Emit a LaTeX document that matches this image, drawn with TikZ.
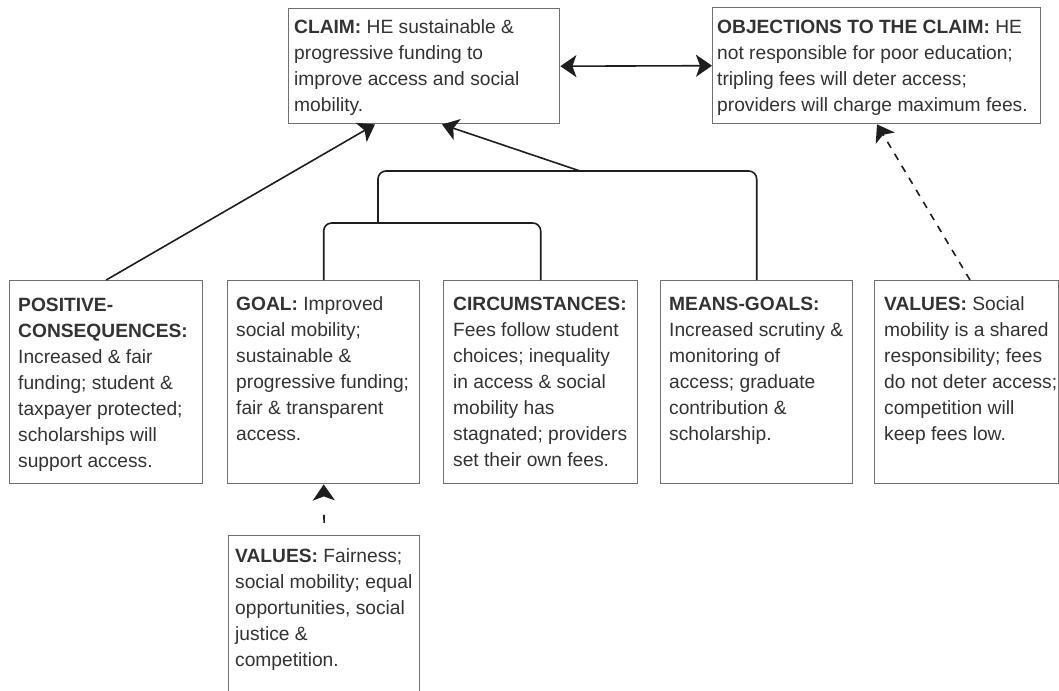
\documentclass[tikz,border=0pt]{standalone}
\usepackage{fontspec}
\setmainfont{Liberation Sans}
\usetikzlibrary{arrows.meta}
\definecolor{boxline}{HTML}{707070}
\definecolor{inkline}{HTML}{1E1E1E}
\definecolor{txtcol}{HTML}{333333}
\tikzset{
  box/.style={draw=boxline, line width=1.4pt, anchor=north west, inner sep=0pt, fill=white},
  label/.style={anchor=north west, inner sep=0pt, align=left, text=txtcol,
    font=\fontsize{19.2pt}{26pt}\selectfont},
  link/.style={draw=inkline, line width=1.6pt},
  toarrow/.style={-{Stealth[length=16pt, width=22pt, inset=4pt]}},
  fromarrow/.style={{Stealth[length=16pt, width=22pt, inset=4pt]}-},
  botharrow/.style={{Stealth[length=16pt, width=22pt, inset=4pt]}-{Stealth[length=16pt, width=22pt, inset=4pt]}},
  dashlink/.style={link, dash pattern=on 7pt off 7pt}}
\begin{document}
\begin{tikzpicture}[x=1pt,y=-1pt]
\useasboundingbox (0,0) rectangle (1059,690);
\clip (0,0) rectangle (1059,690);
\fill[white] (0,0) rectangle (1059,690);

% top row: claim and objections
\node[box, minimum width=271pt, minimum height=115pt] (claim) at (288,8) {};
\node[box, minimum width=328pt, minimum height=116pt] (obj) at (712,7) {};
\node[label] (claimtxt) at (294,14.8) {\strut\textbf{CLAIM:} HE sustainable \&\\progressive funding to\\improve access and social\\mobility.};
\node[label] (objtxt) at (717,14.8) {\strut\textbf{OBJECTIONS TO THE CLAIM:} HE\\not responsible for poor education;\\tripling fees will deter access;\\providers will charge maximum fees.};

% middle row of premises
\node[box, minimum width=193pt, minimum height=203pt] (pos) at (9,280) {};
\node[box, minimum width=192pt, minimum height=203pt] (goal) at (227,280) {};
\node[box, minimum width=194pt, minimum height=203pt] (circ) at (443,280) {};
\node[box, minimum width=192pt, minimum height=203pt] (means) at (660,280) {};
\node[box, minimum width=184pt, minimum height=203pt] (valr) at (874,280) {};

\node[label] (postxt) at (18,292.8) {\strut\textbf{POSITIVE-}\\\textbf{CONSEQUENCES:}\\Increased \& fair\\funding; student \&\\taxpayer protected;\\scholarships will\\support access.};
\node[label] (goaltxt) at (236,291.8) {\strut\textbf{GOAL:} Improved\\social mobility;\\sustainable \&\\progressive funding;\\fair \& transparent\\access.};
\node[label] (circtxt) at (453,291.8) {\strut\textbf{CIRCUMSTANCES:}\\Fees follow student\\choices; inequality\\in access \& social\\mobility has\\stagnated; providers\\set their own fees.};
\node[label] (meanstxt) at (669,291.8) {\strut\textbf{MEANS-GOALS:}\\Increased scrutiny \&\\monitoring of\\access; graduate\\contribution \&\\scholarship.};
\node[label] (valrtxt) at (884,291.8) {\strut\textbf{VALUES:} Social\\mobility is a shared\\responsibility; fees\\do not deter access;\\competition will\\keep fees low.};

% values supporting the goal
\node[box, minimum width=191pt, minimum height=200pt] (valb) at (228,535) {};
\node[label] (valbtxt) at (235,543.8) {\strut\textbf{VALUES:} Fairness;\\social mobility; equal\\opportunities, social\\justice \&\\competition.};

% connectors
\draw[link, botharrow] (claim.east) -- (obj.west);
\draw[link, toarrow] (pos.north) -- ([xshift=87pt]claim.south west);

\coordinate (inner) at (378,223);
\coordinate (bigtop) at (580,171);
\draw[link, rounded corners=8pt] (goal.north) -- ++(0,-57) -| (circ.north);
\draw[link, rounded corners=8pt] (inner) |- (bigtop) -| (means.north);
\draw[link, toarrow] (bigtop) -- ([xshift=154pt]claim.south west);

\draw[dashlink, toarrow] ([xshift=96pt]valr.north west) -- ([xshift=165pt]obj.south west);
\draw[link, dash pattern=on 8pt off 40pt, dash phase=29pt, fromarrow] (goal.south) -- (valb.north);
\end{tikzpicture}
\end{document}
